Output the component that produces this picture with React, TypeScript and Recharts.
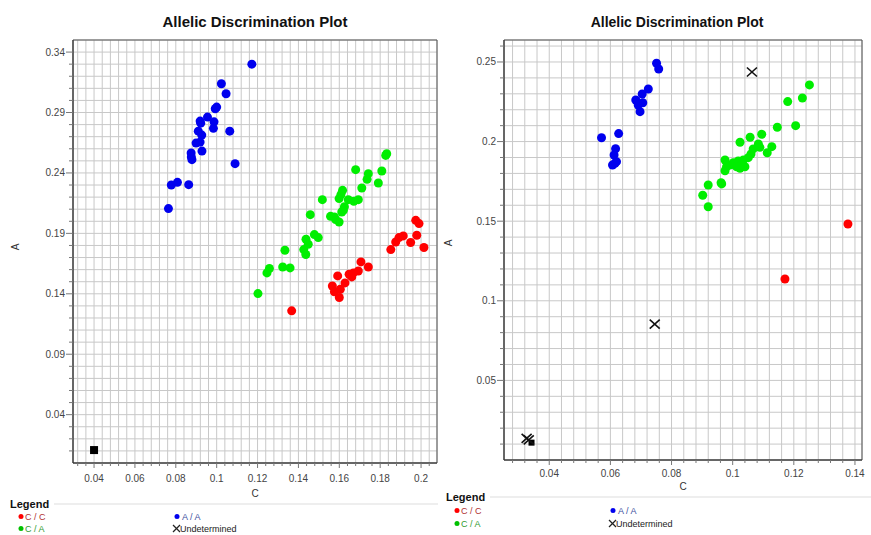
import React from 'react';
import { ScatterChart, Scatter, XAxis, YAxis, CartesianGrid, ReferenceArea } from 'recharts';

type P = [number, number];

// ---------- LEFT PLOT DATA ----------
const leftCC: P[] = [
  [0.1367, 0.1259], [0.1974, 0.2008], [0.1990, 0.1981], [0.1979, 0.1884], [0.2014, 0.1783],
  [0.1949, 0.1824], [0.1913, 0.1879], [0.1892, 0.1865], [0.1876, 0.1829], [0.1852, 0.1766],
  [0.1706, 0.1664], [0.1742, 0.1622], [0.1693, 0.1589], [0.1669, 0.1573], [0.1648, 0.1562],
  [0.1661, 0.1540], [0.1592, 0.1548], [0.1628, 0.1490], [0.1566, 0.1465], [0.1576, 0.1416],
  [0.1605, 0.1438], [0.1600, 0.1369],
];
const leftCA: P[] = [
  [0.1832, 0.2559], [0.1827, 0.2545], [0.1680, 0.2427], [0.1742, 0.2394], [0.1736, 0.2347],
  [0.1808, 0.2416], [0.1791, 0.2317], [0.1710, 0.2275], [0.1616, 0.2256], [0.1608, 0.2221],
  [0.1599, 0.2188], [0.1644, 0.2179], [0.1693, 0.2179], [0.1671, 0.2165], [0.1517, 0.2179],
  [0.1625, 0.2121], [0.1620, 0.2091], [0.1612, 0.2077], [0.1576, 0.2036], [0.1557, 0.2041],
  [0.1599, 0.1994], [0.1582, 0.2014], [0.1458, 0.2055], [0.1478, 0.1890], [0.1497, 0.1865],
  [0.1437, 0.1851], [0.1448, 0.1810], [0.1426, 0.1766], [0.1436, 0.1725], [0.1334, 0.1760],
  [0.1323, 0.1622], [0.1359, 0.1614], [0.1258, 0.1609], [0.1246, 0.1573], [0.1202, 0.1402],
];
const leftAA: P[] = [
  [0.1172, 0.3300], [0.1023, 0.3138], [0.1046, 0.3055], [0.1000, 0.2945], [0.0993, 0.2931],
  [0.0955, 0.2862], [0.0919, 0.2829], [0.0922, 0.2812], [0.0987, 0.2823], [0.0984, 0.2769],
  [0.1064, 0.2746], [0.0910, 0.2746], [0.0927, 0.2713], [0.0899, 0.2647], [0.0919, 0.2655],
  [0.0928, 0.2581], [0.0875, 0.2565], [0.0876, 0.2532], [0.0879, 0.2510], [0.1090, 0.2477],
  [0.0778, 0.2300], [0.0808, 0.2322], [0.0863, 0.2303], [0.0764, 0.2105],
];
const leftNTC: P[] = [[0.0400, 0.0107]];

const leftXDomain: [number, number] = [0.0297, 0.2078];
const leftYDomain: [number, number] = [0, 0.35];
const leftXMajor = [0.04, 0.06, 0.08, 0.1, 0.12, 0.14, 0.16, 0.18, 0.2];
const leftYMajor = [0.04, 0.09, 0.14, 0.19, 0.24, 0.29, 0.34];

// ---------- RIGHT PLOT DATA ----------
const rightCC: P[] = [[0.1377, 0.1482], [0.1171, 0.1137]];
const rightCA: P[] = [
  [0.1251, 0.2356], [0.1228, 0.2274], [0.1180, 0.2251], [0.1206, 0.2100], [0.1146, 0.2090],
  [0.1095, 0.2046], [0.1057, 0.2027], [0.1024, 0.1996], [0.1084, 0.1985], [0.1128, 0.1968],
  [0.1089, 0.1964], [0.1067, 0.1954], [0.1113, 0.1930], [0.1060, 0.1922], [0.1051, 0.1899],
  [0.1035, 0.1884], [0.1018, 0.1878], [0.1002, 0.1867], [0.0975, 0.1884], [0.0991, 0.1853],
  [0.1024, 0.1832], [0.0980, 0.1842], [0.0975, 0.1817], [0.0962, 0.1742], [0.0964, 0.1734],
  [0.0920, 0.1727], [0.0902, 0.1663], [0.0920, 0.1591], [0.1040, 0.1842], [0.1013, 0.1842],
];
const rightAA: P[] = [
  [0.0751, 0.2492], [0.0758, 0.2456], [0.0724, 0.2330], [0.0704, 0.2299], [0.0683, 0.2261],
  [0.0706, 0.2244], [0.0691, 0.2230], [0.0697, 0.2188], [0.0571, 0.2024], [0.0627, 0.2050],
  [0.0617, 0.1955], [0.0612, 0.1916], [0.0620, 0.1874], [0.0607, 0.1853], [0.0615, 0.1864],
];
const rightUnd: P[] = [[0.1063, 0.2437], [0.0745, 0.0854], [0.0326, 0.0136], [0.0333, 0.0126]];
const rightNTC: P[] = [[0.0342, 0.0109]];

const rightXDomain: [number, number] = [0.0252, 0.1423];
const rightYDomain: [number, number] = [0, 0.2638];
const rightXMajor = [0.04, 0.06, 0.08, 0.1, 0.12, 0.14];
const rightYMajor = [0.05, 0.1, 0.15, 0.2, 0.25];

// grid steps (in thousandths)
const X_GRID_STEP = 4;
const Y_GRID_STEP = 10;

const RED = '#ff0000';
const GREEN = '#00ee00';
const BLUE = '#0000ee';
const BLACK = '#111111';

const gridTicks = (domain: [number, number], stepMilli: number): number[] => {
  const out: number[] = [];
  const start = Math.ceil((domain[0] * 1000) / stepMilli);
  const end = Math.floor((domain[1] * 1000) / stepMilli);
  for (let i = start; i <= end; i++) {
    const v = (i * stepMilli) / 1000;
    if (v > domain[0] + 1e-9 && v < domain[1] - 1e-9) out.push(v);
  }
  return out;
};

const toObj = (arr: P[]) => arr.map(([x, y]) => ({ x, y }));
const isMajor = (majors: number[], v: number) => majors.some((m) => Math.abs(m - v) < 1e-7);
const fmt = (v: number) => String(parseFloat(v.toFixed(3)));

const makeXTick = (majors: number[], labelDy: number) => (props: any) => {
  const { x, y, payload } = props;
  const major = isMajor(majors, payload.value);
  return (
    <g>
      <line x1={x} x2={x} y1={y} y2={y + (major ? 5 : 3)} stroke="#777" strokeWidth={1} />
      {major && (
        <text x={x} y={y + labelDy} textAnchor="middle" fontSize={10} fill="#444"
          fontFamily="'Liberation Sans', Arial, sans-serif">
          {fmt(payload.value)}
        </text>
      )}
    </g>
  );
};

const makeYTick = (majors: number[]) => (props: any) => {
  const { x, y, payload } = props;
  const major = isMajor(majors, payload.value);
  return (
    <g>
      <line x1={x} x2={x - (major ? 7 : 4)} y1={y} y2={y} stroke="#777" strokeWidth={1} />
      {major && (
        <text x={x - 8} y={y + 3.5} textAnchor="end" fontSize={10} fill="#444"
          fontFamily="'Liberation Sans', Arial, sans-serif">
          {fmt(payload.value)}
        </text>
      )}
    </g>
  );
};

const dot = (color: string) => (p: any) => <circle cx={p.cx} cy={p.cy} r={4.5} fill={color} />;
const cross = (color: string) => (p: any) => (
  <g stroke={color} strokeWidth={1.6}>
    <line x1={p.cx - 5} y1={p.cy - 4.5} x2={p.cx + 5} y2={p.cy + 4.5} />
    <line x1={p.cx - 5} y1={p.cy + 4.5} x2={p.cx + 5} y2={p.cy - 4.5} />
  </g>
);
const square = (size: number) => (p: any) => (
  <rect x={p.cx - size / 2} y={p.cy - size / 2} width={size} height={size} fill="#000" />
);

interface PlotProps {
  width: number;
  height: number;
  yAxisWidth: number;
  rightMargin: number;
  plotBottom: number;
  xDomain: [number, number];
  yDomain: [number, number];
  xMajor: number[];
  yMajor: number[];
  labelDy: number;
  cc: P[];
  ca: P[];
  aa: P[];
  und: P[];
  ntc: P[];
  ntcSize: number;
}

const Plot = (pp: PlotProps) => {
  const xt = gridTicks(pp.xDomain, X_GRID_STEP);
  const yt = gridTicks(pp.yDomain, Y_GRID_STEP);
  return (
    <ScatterChart width={pp.width} height={pp.height}
      margin={{ top: 40, right: pp.rightMargin, bottom: 0, left: 0 }}>
      <CartesianGrid stroke="#c8c8c8" strokeWidth={1} />
      <XAxis type="number" dataKey="x" domain={pp.xDomain} ticks={xt} interval={0}
        allowDataOverflow height={pp.height - pp.plotBottom} tickLine={false} tickSize={0} tickMargin={0}
        axisLine={{ stroke: '#333' }} tick={makeXTick(pp.xMajor, pp.labelDy)} />
      <YAxis type="number" dataKey="y" domain={pp.yDomain} ticks={yt} interval={0}
        allowDataOverflow width={pp.yAxisWidth} tickLine={false} tickSize={0} tickMargin={0}
        axisLine={{ stroke: '#333' }} tick={makeYTick(pp.yMajor)} />
      <ReferenceArea x1={pp.xDomain[0]} x2={pp.xDomain[1]} y1={pp.yDomain[0]} y2={pp.yDomain[1]}
        fill="none" stroke="#555" strokeWidth={1} fillOpacity={0} ifOverflow="visible" />
      <Scatter name="C / A" data={toObj(pp.ca)} shape={dot(GREEN)} isAnimationActive={false} />
      <Scatter name="C / C" data={toObj(pp.cc)} shape={dot(RED)} isAnimationActive={false} />
      <Scatter name="A / A" data={toObj(pp.aa)} shape={dot(BLUE)} isAnimationActive={false} />
      <Scatter name="NTC" data={toObj(pp.ntc)} shape={square(pp.ntcSize)} isAnimationActive={false} />
      <Scatter name="Undetermined" data={toObj(pp.und)} shape={cross(BLACK)} isAnimationActive={false} />
    </ScatterChart>
  );
};

const FONT = "'Liberation Sans', Arial, sans-serif";

const LegendBlock = ({ x, y, lineEnd, gap }: { x: number; y: number; lineEnd: number; gap: number }) => (
  <g fontFamily={FONT}>
    <line x1={x + 44} y1={y - 4} x2={lineEnd} y2={y - 4} stroke="#dddddd" />
    <text x={x} y={y} fontSize={11} fontWeight="bold" fill="#111">Legend</text>
    <circle cx={x + 11} cy={y + gap - 3.5} r={2.5} fill={RED} />
    <text x={x + 15} y={y + gap} fontSize={9} fill="#b03030">C / C</text>
    <circle cx={x + 11} cy={y + 2 * gap - 3.5} r={2.5} fill="#00c000" />
    <text x={x + 15} y={y + 2 * gap} fontSize={9} fill="#309a30">C / A</text>
    <circle cx={x + 167} cy={y + gap - 3.5} r={2.5} fill={BLUE} />
    <text x={x + 172} y={y + gap} fontSize={9} fill="#4050a0">A / A</text>
    <g stroke="#222" strokeWidth={1.2}>
      <line x1={x + 163} y1={y + 2 * gap - 7} x2={x + 170} y2={y + 2 * gap} />
      <line x1={x + 163} y1={y + 2 * gap} x2={x + 170} y2={y + 2 * gap - 7} />
    </g>
    <text x={x + 170} y={y + 2 * gap} fontSize={9} fill="#222">Undetermined</text>
  </g>
);

export default function App() {
  return (
    <div style={{ position: 'absolute', left: 0, top: 0, width: 871, height: 535, background: '#fff', overflow: 'hidden' }}>
      <div style={{ position: 'absolute', left: 0, top: 0 }}>
        <Plot width={440} height={500} yAxisWidth={73} rightMargin={3} plotBottom={463}
          xDomain={leftXDomain} yDomain={leftYDomain} xMajor={leftXMajor} yMajor={leftYMajor}
          labelDy={18.5} cc={leftCC} ca={leftCA} aa={leftAA} und={[]} ntc={leftNTC} ntcSize={8} />
      </div>
      <div style={{ position: 'absolute', left: 440, top: 0 }}>
        <Plot width={431} height={500} yAxisWidth={64} rightMargin={9} plotBottom={460}
          xDomain={rightXDomain} yDomain={rightYDomain} xMajor={rightXMajor} yMajor={rightYMajor}
          labelDy={16.5} cc={rightCC} ca={rightCA} aa={rightAA} und={rightUnd} ntc={rightNTC} ntcSize={6} />
      </div>
      <svg width={871} height={535} style={{ position: 'absolute', left: 0, top: 0, pointerEvents: 'none' }}>
        <g fontFamily={FONT}>
          <text x={255} y={27} textAnchor="middle" fontSize={15} fontWeight="bold" fill="#111">Allelic Discrimination Plot</text>
          <text x={677} y={27} textAnchor="middle" fontSize={14} fontWeight="bold" fill="#111">Allelic Discrimination Plot</text>
          <text x={0} y={0} transform="translate(19,247) rotate(-90)" textAnchor="middle" fontSize={10} fill="#333">A</text>
          <text x={0} y={0} transform="translate(452,243) rotate(-90)" textAnchor="middle" fontSize={10} fill="#333">A</text>
          <text x={255} y={497} textAnchor="middle" fontSize={10} fill="#333">C</text>
          <text x={683} y={490} textAnchor="middle" fontSize={10} fill="#333">C</text>
        </g>
        <LegendBlock x={10} y={508} lineEnd={438} gap={12} />
        <LegendBlock x={446} y={501} lineEnd={871} gap={13} />
      </svg>
    </div>
  );
}
